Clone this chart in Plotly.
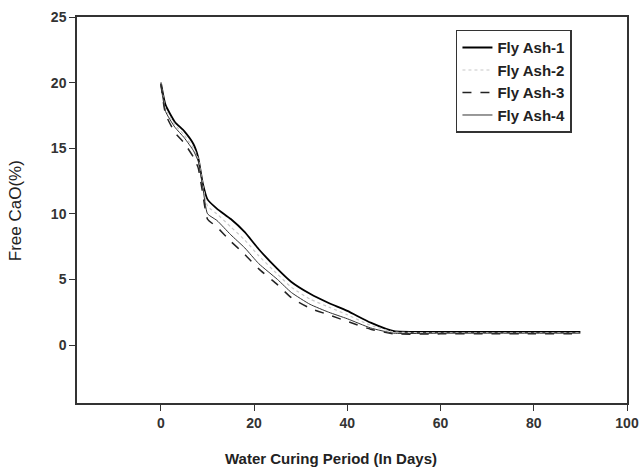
import plotly.graph_objects as go

days = [0, 1, 3, 5, 7, 8, 9, 10, 12, 15, 18, 21, 25, 28, 32, 36, 40, 45, 50, 60, 70, 80, 90]
fly_ash_1 = [20.0, 18.3, 17.0, 16.3, 15.3, 14.3, 12.3, 11.1, 10.4, 9.6, 8.6, 7.3, 5.8, 4.8, 3.9, 3.2, 2.6, 1.7, 1.05, 1.0, 1.0, 1.0, 1.0]
fly_ash_2 = [20.0, 18.0, 16.8, 16.0, 15.0, 14.2, 12.2, 10.6, 10.0, 9.0, 8.0, 6.8, 5.4, 4.4, 3.5, 2.9, 2.3, 1.5, 1.0, 0.95, 0.95, 0.95, 0.95]
fly_ash_3 = [19.9, 17.6, 16.2, 15.4, 14.3, 13.5, 11.5, 9.6, 9.0, 7.9, 6.9, 5.8, 4.6, 3.6, 2.8, 2.3, 1.8, 1.2, 0.85, 0.85, 0.85, 0.85, 0.85]
fly_ash_4 = [19.8, 17.8, 16.6, 15.8, 14.8, 14.0, 12.0, 10.0, 9.5, 8.4, 7.4, 6.2, 5.0, 4.0, 3.1, 2.5, 2.0, 1.3, 0.9, 0.9, 0.9, 0.9, 0.9]

x_ticks = [0, 20, 40, 60, 80, 100]
y_ticks = [0, 5, 10, 15, 20, 25]

series = [
    ("Fly Ash-1", fly_ash_1, dict(color="black", width=1.8, dash="solid")),
    ("Fly Ash-2", fly_ash_2, dict(color="#c8c8c8", width=1.2, dash="dot")),
    ("Fly Ash-3", fly_ash_3, dict(color="#222222", width=1.5, dash="dash")),
    ("Fly Ash-4", fly_ash_4, dict(color="#333333", width=1.0, dash="solid")),
]

fig = go.Figure()
for name, vals, line in series:
    fig.add_trace(go.Scatter(x=days, y=vals, mode="lines", name=name,
                             line=dict(shape="spline", smoothing=0.5, **line)))

axis_common = dict(
    showline=True, linecolor="#333333", linewidth=1.5, mirror=True,
    ticks="outside", ticklen=6, tickcolor="#333333", showgrid=False, zeroline=False,
    automargin=False,
    tickfont=dict(family="Arial, Liberation Sans", size=14, color="#333333", weight="bold"),
)

L, R, T, B = 77, 13, 17, 66
fig.update_layout(
    width=640, height=469,
    margin=dict(l=L, r=R, t=T, b=B),
    paper_bgcolor="white", plot_bgcolor="white",
    xaxis=dict(range=[-18.0, 100], tickvals=x_ticks, **axis_common),
    yaxis=dict(range=[-4.42, 25], tickvals=y_ticks, **axis_common),
    legend=dict(x=0.689, y=0.967, xanchor="left", yanchor="top",
                bordercolor="#333333", borderwidth=1.5, bgcolor="white",
                font=dict(family="Arial, Liberation Sans", size=15, color="#222222", weight="bold"),
                tracegroupgap=0),
    showlegend=True,
    annotations=[
        dict(text="Water Curing Period (In Days)", xref="paper", yref="paper",
             x=0.462, y=-0.1425, xanchor="center", yanchor="middle", showarrow=False,
             font=dict(family="Arial, Liberation Sans", size=15, color="#222222", weight="bold")),
        dict(text="Free CaO(%)", xref="paper", yref="paper", textangle=-90,
             x=-0.1127, y=0.497, xanchor="center", yanchor="middle", showarrow=False,
             font=dict(family="Arial, Liberation Sans", size=17, color="#222222")),
    ],
)

fig.write_html("out.html", config={"displayModeBar": False},
               post_script="document.body.style.margin='0px';document.body.style.overflow='hidden';")
